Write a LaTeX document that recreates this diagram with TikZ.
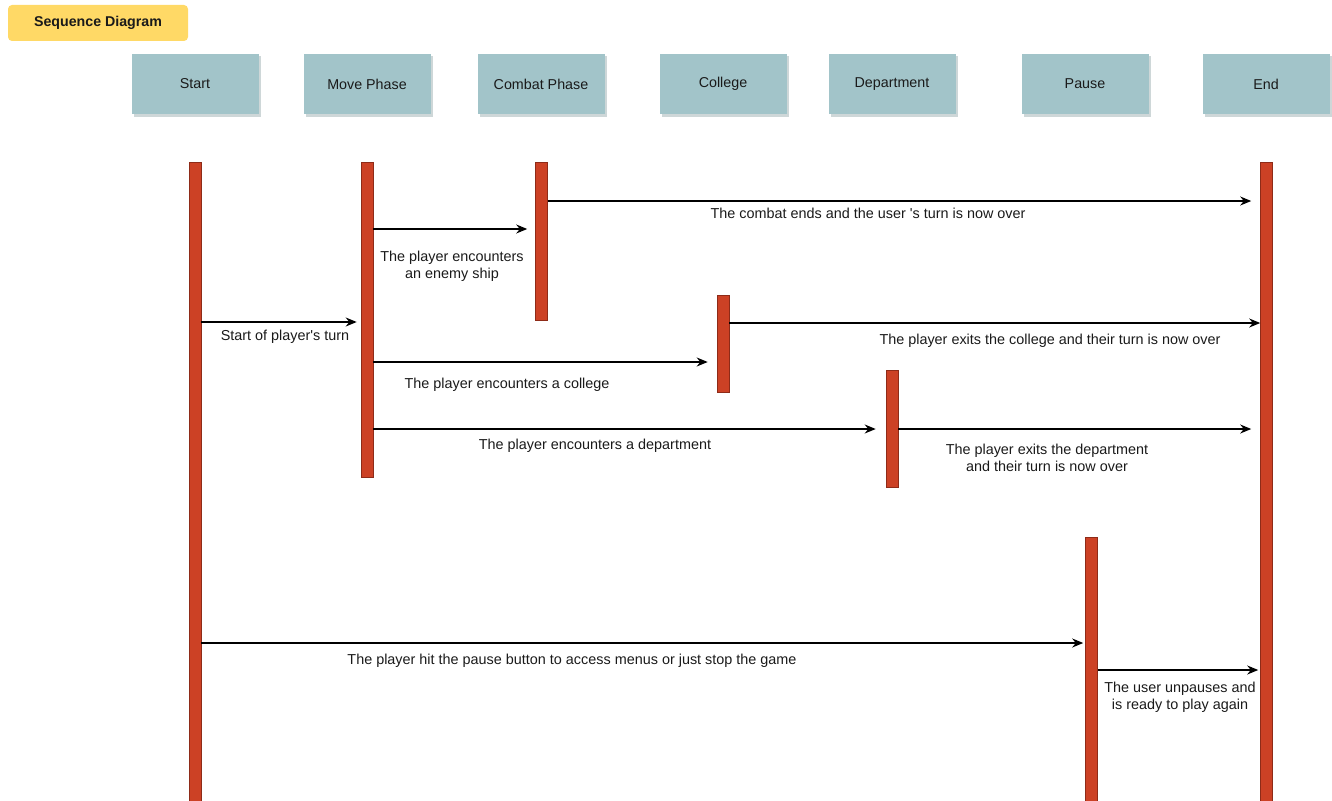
\documentclass[tikz,border=0pt]{standalone}
\usepackage{fontspec}
\setmainfont{Liberation Sans}
\usetikzlibrary{arrows.meta,shadows}
\definecolor{barred}{HTML}{CC4125}
\definecolor{barline}{HTML}{8E2B18}
\definecolor{headfill}{HTML}{A2C4C9}
\definecolor{headshadow}{HTML}{B9C6C8}
\definecolor{titlefill}{HTML}{FFD966}
\definecolor{txt}{HTML}{1A1A1A}
\tikzset{
  head/.style={fill=headfill, draw=none, minimum width=127pt, minimum height=60pt, inner sep=0pt,
    font=\fontsize{14.3}{16}\selectfont, text=txt,
    drop shadow={shadow xshift=2.5pt, shadow yshift=-2.5pt, fill=headshadow, opacity=0.7}},
  bar/.style={fill=barred, draw=barline, line width=0.6pt, minimum width=12pt, inner sep=0pt, anchor=north},
  msg/.style={draw=black, line width=1.1pt, -{Stealth[length=11pt,width=9pt]}},
  lbl/.style={font=\fontsize{14.4}{17}\selectfont, text=txt, align=center, inner sep=0pt}
}
\begin{document}
\begin{tikzpicture}[x=1pt,y=-1pt]
\useasboundingbox (0,0) rectangle (1332,800);
\node[fill=titlefill, rounded corners=4pt, minimum width=180pt, minimum height=36pt, inner sep=0pt,
  font=\bfseries\fontsize{14.2}{16}\selectfont, text=txt] (title) at (98,23) {Sequence Diagram};
\node[head] (hstart) at (195,84) {Start};
\node[head] (hmove) at (367,84) {Move Phase};
\node[head] (hcombat) at (541,84) {Combat Phase};
\node[head] (hcollege) at (723,84) {College};
\node[head] (hdept) at (892,84) {Department};
\node[head] (hpause) at (1085,84) {Pause};
\node[head] (hend) at (1266,84) {End};
% activation bars
\node[bar, minimum height=640pt] (bstart) at (195,162) {};
\node[bar, minimum height=315pt] (bmove) at (367,162) {};
\node[bar, minimum height=158pt] (bcombat) at (541.5,162) {};
\node[bar, minimum height=97pt] (bcollege) at (723,295) {};
\node[bar, minimum height=117pt] (bdept) at (892,370) {};
\node[bar, minimum height=265pt] (bpause) at (1091.5,537) {};
\node[bar, minimum height=640pt] (bend) at (1266.5,162) {};
% messages
\draw[msg, shorten >=9pt] (bcombat.east |- 0,201) -- (bend.west |- 0,201);
\node[lbl] (l1) at (868,213) {The combat ends and the user \textquotesingle s turn is now over};
\draw[msg, shorten >=8pt] (bmove.east |- 0,229) -- (bcombat.west |- 0,229);
\node[lbl] (l2) at (452,266) {The player encounters\\an enemy ship};
\draw[msg, shorten >=4pt] (bstart.east |- 0,322) -- (bmove.west |- 0,322);
\node[lbl] (l3) at (285,337) {Start of player\textquotesingle s turn};
\draw[msg] (bcollege.east |- 0,323) -- (bend.west |- 0,323);
\node[lbl] (l4) at (1050,341) {The player exits the college and their turn is now over};
\draw[msg, shorten >=9pt] (bmove.east |- 0,362) -- (bcollege.west |- 0,362);
\node[lbl] (l5) at (507,385) {The player encounters a college};
\draw[msg, shorten >=10pt] (bmove.east |- 0,429) -- (bdept.west |- 0,429);
\node[lbl] (l6) at (595,446) {The player encounters a department};
\draw[msg, shorten >=9pt] (bdept.east |- 0,429) -- (bend.west |- 0,429);
\node[lbl] (l7) at (1047,458) {The player exits the department\\and their turn is now over};
\draw[msg, shorten >=2pt] (bstart.east |- 0,643) -- (bpause.west |- 0,643);
\node[lbl] (l8) at (572,661) {The player hit the pause button to access menus or just stop the game};
\draw[msg, shorten >=2pt] (bpause.east |- 0,670) -- (bend.west |- 0,670);
\node[lbl] (l9) at (1180,697) {The user unpauses and\\is ready to play again};
\end{tikzpicture}
\end{document}
